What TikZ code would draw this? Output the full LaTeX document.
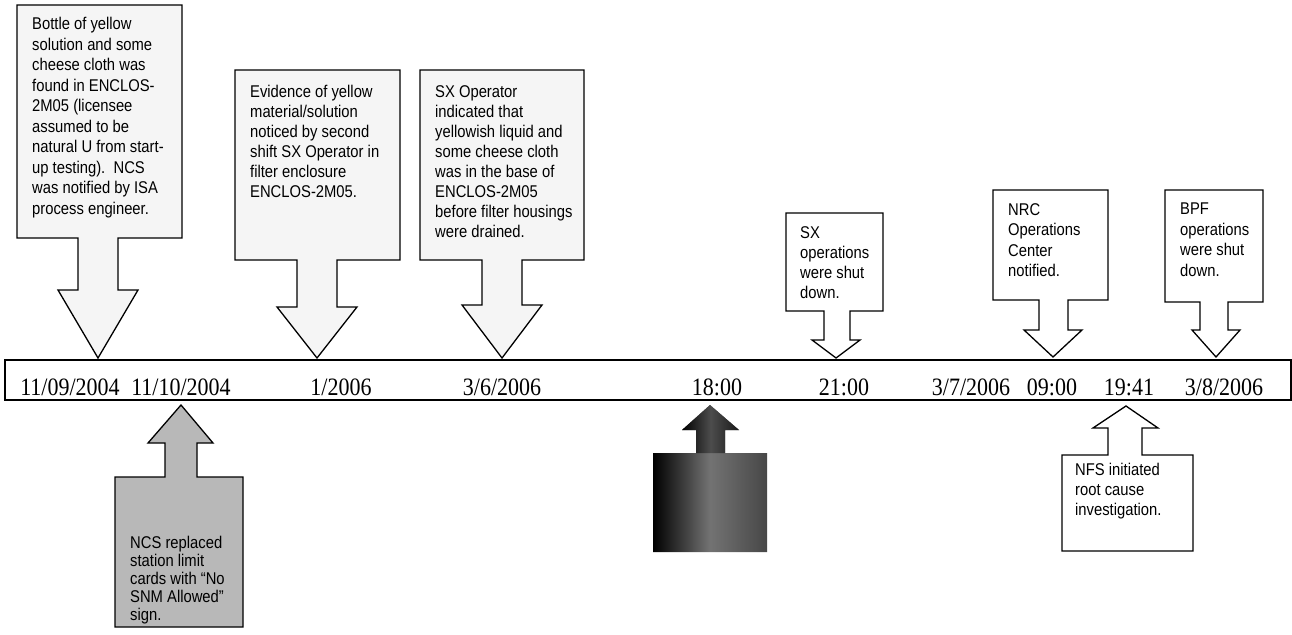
\documentclass[tikz,border=0pt]{standalone}
\usepackage{fontspec}
\newfontfamily\boxfont[FakeStretch=0.87]{Liberation Sans}
\newfontfamily\datefont[FakeStretch=0.88]{Liberation Serif}
\begin{document}
\begin{tikzpicture}[x=1pt,y=-1pt,
  callA/.style={draw=black,line width=1.3pt,fill=black!4,line join=miter},
  callW/.style={draw=black,line width=1.3pt,fill=white,line join=miter},
  callG/.style={draw=black,line width=1.3pt,fill=black!28,line join=miter},
  txt/.style={anchor=north west,inner sep=0pt,align=left,font=\boxfont\fontsize{17}{20.5}\selectfont},
  txtb/.style={txt,font=\boxfont\fontsize{17}{20}\selectfont},
  txtc/.style={txt,font=\boxfont\fontsize{17}{18}\selectfont},
  date/.style={anchor=base,inner sep=0pt,font=\datefont\fontsize{25}{28}\selectfont}]
\useasboundingbox (0,0) rectangle (1292,634);
\fill[white] (0,0) rectangle (1292,634);

% timeline band
\draw[line width=1.6pt] (5,360) rectangle (1291,400);
\node[date] (d1) at (70,395) {11/09/2004};
\node[date] (d2) at (181,395) {11/10/2004};
\node[date] (d3) at (341,395) {1/2006};
\node[date] (d4) at (502,395) {3/6/2006};
\node[date] (d5) at (717,395) {18:00};
\node[date] (d6) at (844,395) {21:00};
\node[date] (d7) at (971,395) {3/7/2006};
\node[date] (d8) at (1052,395) {09:00};
\node[date] (d9) at (1129,395) {19:41};
\node[date] (d10) at (1224,395) {3/8/2006};

% down callouts
\draw[callA] (17,5) -- (182,5) -- (182,238) -- (118,238) -- (118,290) -- (138,290) -- (98,358) -- (58,290) -- (78,290) -- (78,238) -- (17,238) -- cycle;
\node[txt] (t1) at (32,17) {Bottle of yellow\\solution and some\\cheese cloth was\\found in ENCLOS-\\2M05 (licensee\\assumed to be\\natural U from start-\\up testing).\ \ NCS\\was notified by ISA\\process engineer.};

\draw[callA] (235,70) -- (400,70) -- (400,260) -- (337,260) -- (337,307) -- (357,307) -- (317,358) -- (277,307) -- (297,307) -- (297,260) -- (235,260) -- cycle;
\node[txtb] (t2) at (250,85) {Evidence of yellow\\material/solution\\noticed by second\\shift SX Operator in\\filter enclosure\\ENCLOS-2M05.};

\draw[callA] (420,70) -- (584,70) -- (584,260) -- (522,260) -- (522,305) -- (542,305) -- (502,358) -- (462,305) -- (482,305) -- (482,260) -- (420,260) -- cycle;
\node[txtb] (t3) at (435,85) {SX Operator\\indicated that\\yellowish liquid and\\some cheese cloth\\was in the base of\\ENCLOS-2M05\\before filter housings\\were drained.};

\draw[callW] (786,213) -- (883,213) -- (883,311) -- (850,311) -- (850,340) -- (860,340) -- (836,358) -- (812,340) -- (824,340) -- (824,311) -- (786,311) -- cycle;
\node[txtb] (t4) at (800,226) {SX\\operations\\were shut\\down.};

\draw[callW] (993,190) -- (1108,190) -- (1108,300) -- (1068,300) -- (1068,330) -- (1082,330) -- (1053,357) -- (1024,330) -- (1039,330) -- (1039,300) -- (993,300) -- cycle;
\node[txt] (t5) at (1008,203) {NRC\\Operations\\Center\\notified.};

\draw[callW] (1165,190) -- (1263,190) -- (1263,302) -- (1228,302) -- (1228,330) -- (1240,330) -- (1216,357) -- (1192,330) -- (1200,330) -- (1200,302) -- (1165,302) -- cycle;
\node[txt] (t6) at (1180,203) {BPF\\operations\\were shut\\down.};

% up callouts
\draw[callG] (115,627) -- (115,477) -- (165,477) -- (165,443) -- (148,443) -- (181,405) -- (213,443) -- (197,443) -- (197,477) -- (243,477) -- (243,627) -- cycle;
\node[txtc] (t7) at (130,536) {NCS replaced\\station limit\\cards with “No\\SNM Allowed”\\sign.};

\shade[left color=black,right color=black!72,middle color=black!55] (653,552) -- (653,453) -- (696,453) -- (696,430) -- (682,430) -- (710,405) -- (739,430) -- (725,430) -- (725,453) -- (767,453) -- (767,552) -- cycle;
\shade[left color=black,right color=black!90,middle color=black!70] (696,453) -- (696,430) -- (682,430) -- (710,405) -- (739,430) -- (725,430) -- (725,453) -- cycle;

\draw[callW] (1062,551) -- (1062,455) -- (1108,455) -- (1108,428) -- (1093,428) -- (1126,406) -- (1158,428) -- (1142,428) -- (1142,455) -- (1193,455) -- (1193,551) -- cycle;
\node[txtb] (t8) at (1075,463) {NFS initiated\\root cause\\investigation.};
\end{tikzpicture}
\end{document}
